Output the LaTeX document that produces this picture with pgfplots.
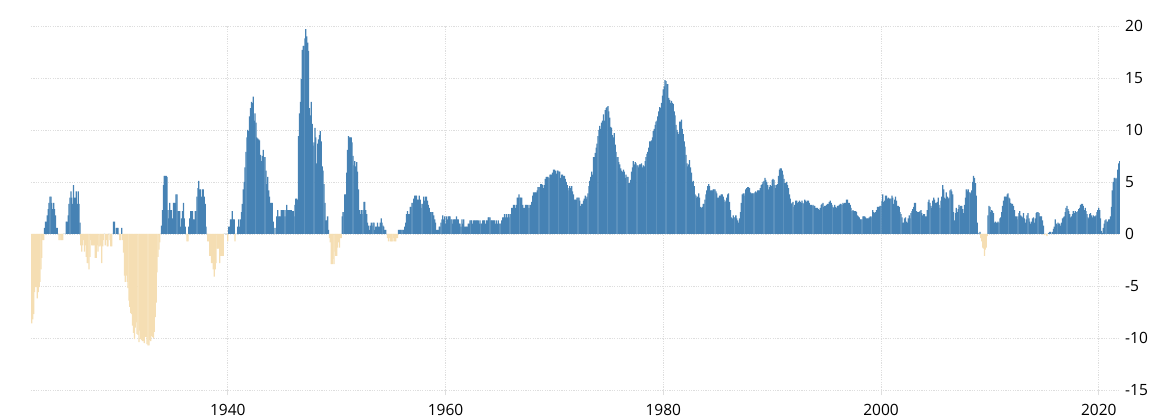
\documentclass[border=0pt]{standalone}
\usepackage{pgfplots}
\pgfplotsset{compat=1.18}
\usepackage{pgfplotstable}
\usepackage{fontspec}
\setmainfont{Open Sans}
\definecolor{posc}{RGB}{70,130,180}
\definecolor{negc}{RGB}{245,222,179}
\definecolor{gridc}{RGB}{222,222,222}

\pgfplotstableread{
year m1 m2 m3 m4 m5 m6 m7 m8 m9 m10 m11 m12
1922 -8.6 -8.2 -7.7 -5.6 -5.1 -5.1 -6.2 -5.6 -5.1 -4.6 -3.4 -2.3
1923 -0.6 -0.6 0.6 1.2 1.2 1.8 2.4 3.0 3.6 3.6 3.0 2.4
1924 3.0 2.4 1.8 0.6 0.6 0.0 -0.6 -0.6 -0.6 -0.6 -0.6 0.0
1925 0.0 0.0 1.2 1.2 1.8 2.9 3.5 4.1 3.5 2.9 4.7 3.5
1926 3.5 4.1 2.9 4.1 2.9 1.1 -1.1 -1.7 -1.1 -0.6 -1.7 -1.1
1927 -2.2 -2.8 -2.8 -3.4 -2.2 -0.6 -1.1 -1.1 -1.1 -1.1 -2.3 -2.3
1928 -1.1 -1.7 -1.2 -1.2 -1.1 -2.8 -1.2 -0.6 0.0 -1.1 -0.6 -1.2
1929 -1.2 0.0 -0.6 -1.2 -1.2 0.0 1.2 1.2 0.0 0.6 0.6 0.6
1930 0.0 -0.6 -0.6 0.6 -0.6 -1.8 -4.0 -4.6 -4.0 -4.6 -5.2 -6.4
1931 -7.0 -7.6 -7.7 -8.8 -9.5 -10.1 -9.0 -8.5 -9.6 -9.7 -10.4 -9.3
1932 -10.1 -10.2 -10.3 -10.3 -10.5 -9.9 -9.9 -10.6 -10.7 -10.7 -10.2 -10.3
1933 -9.8 -9.9 -10.0 -9.4 -8.0 -6.6 -3.7 -2.2 -1.5 -0.8 0.0 0.8
1934 2.3 4.7 5.6 5.6 5.6 5.5 2.3 1.5 3.0 2.3 2.3 1.5
1935 3.0 3.0 3.0 3.8 3.8 2.2 2.2 2.2 0.7 1.5 2.2 3.0
1936 1.5 0.7 0.0 -0.7 -0.7 0.7 1.5 2.2 2.2 2.2 1.4 1.4
1937 2.2 2.2 3.6 4.4 5.1 4.3 4.3 3.6 4.3 4.3 3.6 2.9
1938 0.7 0.0 -0.7 -0.7 -2.1 -2.1 -2.8 -2.8 -3.4 -4.1 -3.4 -2.8
1939 -1.4 -1.4 -1.4 -2.8 -2.1 -2.1 -2.1 -2.1 0.0 0.0 0.0 0.0
1940 -0.7 0.7 0.7 1.4 1.4 2.2 1.4 1.4 -0.7 0.0 0.0 0.7
1941 1.4 0.7 1.4 2.1 2.9 4.3 5.0 6.4 7.9 9.3 10.0 9.9
1942 11.3 12.1 12.7 12.6 13.2 10.9 11.6 10.7 9.3 9.2 9.1 9.0
1943 7.6 7.0 7.5 8.1 7.4 7.4 6.1 4.8 5.5 4.2 3.6 3.0
1944 3.0 3.0 1.2 0.6 0.0 0.6 1.7 2.3 1.7 1.7 1.7 2.3
1945 2.3 2.3 2.3 1.7 2.3 2.8 2.3 2.3 2.3 2.3 2.3 2.2
1946 2.2 1.7 2.8 3.4 3.4 3.3 9.4 11.6 12.7 14.9 17.7 18.1
1947 18.1 18.8 19.7 19.0 18.4 17.6 12.1 11.4 12.7 10.6 8.5 8.8
1948 10.2 9.3 6.8 8.7 9.1 9.5 9.9 8.9 6.5 6.1 4.8 3.0
1949 1.3 1.3 1.7 0.4 -0.4 -0.8 -2.9 -2.9 -2.4 -2.9 -1.7 -2.1
1950 -2.1 -1.3 -0.8 -1.3 -0.4 -0.4 1.7 2.1 2.1 3.8 3.8 5.9
1951 8.1 9.4 9.3 9.3 9.3 8.8 7.5 6.6 7.0 6.5 6.9 6.0
1952 4.3 2.3 1.9 2.3 1.9 2.3 3.1 3.1 2.3 1.9 1.1 0.8
1953 0.4 0.8 1.1 0.8 1.1 1.1 0.4 0.7 0.7 1.1 0.7 0.7
1954 1.1 1.5 1.1 0.8 0.7 0.4 0.4 0.0 -0.4 -0.7 -0.4 -0.7
1955 -0.7 -0.7 -0.7 -0.4 -0.7 -0.7 -0.4 -0.4 0.4 0.4 0.4 0.4
1956 0.4 0.4 0.4 0.7 1.1 1.9 2.2 1.9 1.9 2.6 2.6 3.0
1957 3.0 3.4 3.7 3.7 3.7 3.3 3.3 3.7 3.3 2.5 2.9 2.9
1958 3.6 3.2 3.6 3.6 3.2 2.8 2.5 2.1 2.1 2.1 2.1 1.8
1959 1.4 1.1 0.4 0.4 0.4 0.7 0.7 1.1 1.4 1.8 1.4 1.7
1960 1.0 1.7 1.4 1.7 1.7 1.7 1.4 1.4 1.0 1.4 1.4 1.4
1961 1.7 1.4 1.4 1.0 1.0 0.7 1.4 1.0 1.4 0.7 0.7 0.7
1962 0.7 1.0 1.0 1.3 1.3 1.3 1.0 1.3 1.3 1.3 1.3 1.3
1963 1.3 1.0 1.3 1.0 1.0 1.3 1.3 1.3 1.0 1.3 1.3 1.6
1964 1.6 1.6 1.3 1.3 1.3 1.3 1.3 1.0 1.3 1.0 1.3 1.0
1965 1.0 1.0 1.3 1.6 1.6 1.9 1.6 1.9 1.6 1.9 1.6 1.9
1966 1.9 2.5 2.5 2.8 2.8 2.5 2.8 3.5 3.5 3.8 3.5 3.5
1967 3.5 2.8 2.5 2.5 2.8 2.8 2.8 2.5 2.8 2.5 2.8 3.1
1968 3.7 4.0 4.0 4.0 4.0 4.2 4.5 4.5 4.5 4.8 4.8 4.7
1969 4.4 4.7 5.3 5.5 5.5 5.5 5.4 5.7 5.7 5.7 5.9 6.2
1970 6.2 6.1 5.8 6.1 6.1 6.0 6.0 5.4 5.7 5.7 5.6 5.6
1971 5.3 5.0 4.7 4.2 4.4 4.6 4.4 4.6 4.1 3.8 3.3 3.3
1972 3.3 3.5 3.5 3.5 3.2 2.7 2.9 2.9 3.2 3.4 3.7 3.4
1973 3.6 3.9 4.6 5.1 5.5 6.0 5.7 7.4 7.4 7.8 8.3 8.7
1974 9.4 10.0 10.4 10.1 10.7 10.9 11.5 10.9 11.9 12.1 12.2 12.3
1975 11.8 11.2 10.3 10.2 9.5 9.3 9.7 8.6 7.9 7.4 7.4 6.9
1976 6.7 6.3 6.1 6.0 6.2 6.0 5.4 5.7 5.5 5.5 4.9 4.9
1977 5.2 6.0 6.4 7.0 6.7 6.9 6.8 6.6 6.6 6.4 6.7 6.7
1978 6.8 6.4 6.6 6.5 7.0 7.4 7.7 7.9 8.3 8.9 8.9 9.0
1979 9.3 9.9 10.1 10.5 10.8 10.9 11.3 11.8 12.2 12.1 12.6 13.3
1980 13.9 14.2 14.8 14.7 14.4 14.4 13.1 12.9 12.6 12.8 12.6 12.5
1981 11.8 11.4 10.5 10.0 9.8 9.6 10.8 10.8 11.0 10.1 9.6 8.9
1982 8.4 7.6 6.8 6.5 6.7 7.1 6.4 5.9 5.0 5.1 4.6 3.8
1983 3.7 3.5 3.6 3.9 3.5 2.6 2.5 2.6 2.9 2.9 3.3 3.8
1984 4.2 4.6 4.8 4.6 4.2 4.2 4.2 4.3 4.3 4.3 4.1 3.9
1985 3.5 3.5 3.7 3.7 3.8 3.8 3.6 3.3 3.1 3.2 3.5 3.8
1986 3.9 3.1 2.3 1.6 1.5 1.8 1.6 1.6 1.8 1.5 1.3 1.1
1987 1.5 2.1 3.0 3.8 3.9 3.7 3.9 4.3 4.4 4.5 4.5 4.4
1988 4.0 3.9 3.9 3.9 3.9 4.0 4.1 4.0 4.2 4.2 4.2 4.4
1989 4.7 4.8 5.0 5.1 5.4 5.2 5.0 4.7 4.3 4.5 4.7 4.6
1990 5.2 5.3 5.2 4.7 4.4 4.7 4.8 5.6 6.2 6.3 6.3 6.1
1991 5.7 5.3 4.9 4.9 5.0 4.7 4.4 3.8 3.4 2.9 3.0 3.1
1992 2.6 2.8 3.2 3.2 3.0 3.1 3.2 3.1 3.0 3.2 3.0 2.9
1993 3.3 3.2 3.1 3.2 3.2 3.0 2.8 2.8 2.7 2.8 2.7 2.7
1994 2.5 2.5 2.5 2.4 2.3 2.5 2.8 2.9 3.0 2.6 2.7 2.7
1995 2.8 2.9 2.9 3.1 3.2 3.0 2.8 2.6 2.5 2.8 2.6 2.5
1996 2.7 2.7 2.8 2.9 2.9 2.8 3.0 2.9 3.0 3.0 3.3 3.3
1997 3.0 3.0 2.8 2.5 2.2 2.3 2.2 2.2 2.2 2.1 1.8 1.7
1998 1.6 1.4 1.4 1.4 1.7 1.7 1.7 1.6 1.5 1.5 1.5 1.6
1999 1.7 1.6 1.7 2.3 2.1 2.0 2.1 2.3 2.6 2.6 2.6 2.7
2000 2.7 3.2 3.8 3.1 3.2 3.7 3.7 3.4 3.5 3.4 3.4 3.4
2001 3.7 3.5 2.9 3.3 3.6 3.2 2.7 2.7 2.6 2.1 1.9 1.6
2002 1.1 1.1 1.5 1.6 1.2 1.1 1.5 1.8 1.5 2.0 2.2 2.4
2003 2.6 3.0 3.0 2.2 2.1 2.1 2.1 2.2 2.3 2.0 1.8 1.9
2004 1.9 1.7 1.7 2.3 3.1 3.3 3.0 2.7 2.5 3.2 3.5 3.3
2005 3.0 3.0 3.1 3.5 2.8 2.5 3.2 3.6 4.7 4.3 3.5 3.4
2006 4.0 3.6 3.4 3.5 4.2 4.3 4.1 3.8 2.1 1.3 2.0 2.5
2007 2.1 2.4 2.8 2.6 2.7 2.7 2.4 2.0 2.8 3.5 4.3 4.1
2008 4.3 4.0 4.0 3.9 4.2 5.0 5.6 5.4 4.9 3.7 1.1 0.1
2009 0.0 0.2 -0.4 -0.7 -1.3 -1.4 -2.1 -1.5 -1.3 -0.2 1.8 2.7
2010 2.6 2.1 2.3 2.2 2.0 1.1 1.2 1.1 1.1 1.2 1.1 1.5
2011 1.6 2.1 2.7 3.2 3.6 3.6 3.6 3.8 3.9 3.5 3.4 3.0
2012 2.9 2.9 2.7 2.3 1.7 1.7 1.4 1.7 2.0 2.2 1.8 1.7
2013 1.6 2.0 1.5 1.1 1.4 1.8 2.0 1.5 1.2 1.0 1.2 1.5
2014 1.6 1.1 1.5 2.0 2.1 2.1 2.0 1.7 1.7 1.7 1.3 0.8
2015 -0.1 0.0 -0.1 -0.2 0.0 0.1 0.2 0.2 0.0 0.2 0.5 0.7
2016 1.4 1.0 0.9 1.1 1.0 1.0 0.8 1.1 1.5 1.6 1.7 2.1
2017 2.5 2.7 2.4 2.2 1.9 1.6 1.7 1.9 2.2 2.0 2.2 2.1
2018 2.1 2.2 2.4 2.5 2.8 2.9 2.9 2.7 2.3 2.5 2.2 1.9
2019 1.6 1.5 1.9 2.0 1.8 1.6 1.8 1.7 1.7 1.8 2.1 2.3
2020 2.5 2.3 1.5 0.3 0.1 0.6 1.0 1.3 1.4 1.2 1.2 1.4
2021 1.4 1.7 2.6 4.2 5.0 5.4 5.4 5.3 5.4 6.2 6.8 7.0
}\cpi

\begin{document}
\begin{tikzpicture}
\useasboundingbox (-31pt,-27pt) rectangle (1122pt,390pt);
\begin{axis}[
  scale only axis, width=1089pt, height=364pt,
  xmin=1921.92, xmax=2021.95, ymin=-15, ymax=20,
  axis line style={draw=none},
  xtick={1940,1960,1980,2000,2020},
  xticklabels={1940,1960,1980,2000,2020},
  ytick={-15,-10,-5,0,5,10,15,20},
  yticklabels={-15,-10,-5,0,5,10,15,20},
  yticklabel pos=right,
  xtick pos=lower,
  grid=major,
  major grid style={gridc, dash pattern=on 1.2pt off 1.2pt, line width=0.8pt},
  tick align=outside, major tick length=5pt,
  xtick style={gridc, line width=0.8pt},
  ytick style={draw=none},
  xticklabel style={font=\fontsize{15.5}{18}\selectfont, text=black, anchor=base, inner sep=0pt},
  yticklabel style={font=\fontsize{15.5}{18}\selectfont, text=black, anchor=west, inner sep=0pt},
  every x tick label/.append style={yshift=-20pt},
]
\pgfplotsinvokeforeach{1,...,12}{
  \addplot[ybar, bar width=0.115, bar shift=0pt, fill=posc, draw=none,
    restrict y to domain=0:40]
    table[x expr=\thisrow{year}+(#1-1)/12, y=m#1]{\cpi};
  \addplot[ybar, bar width=0.115, bar shift=0pt, fill=negc, draw=none,
    restrict y to domain=-40:0]
    table[x expr=\thisrow{year}+(#1-1)/12, y=m#1]{\cpi};
}
\end{axis}
\end{tikzpicture}
\end{document}
